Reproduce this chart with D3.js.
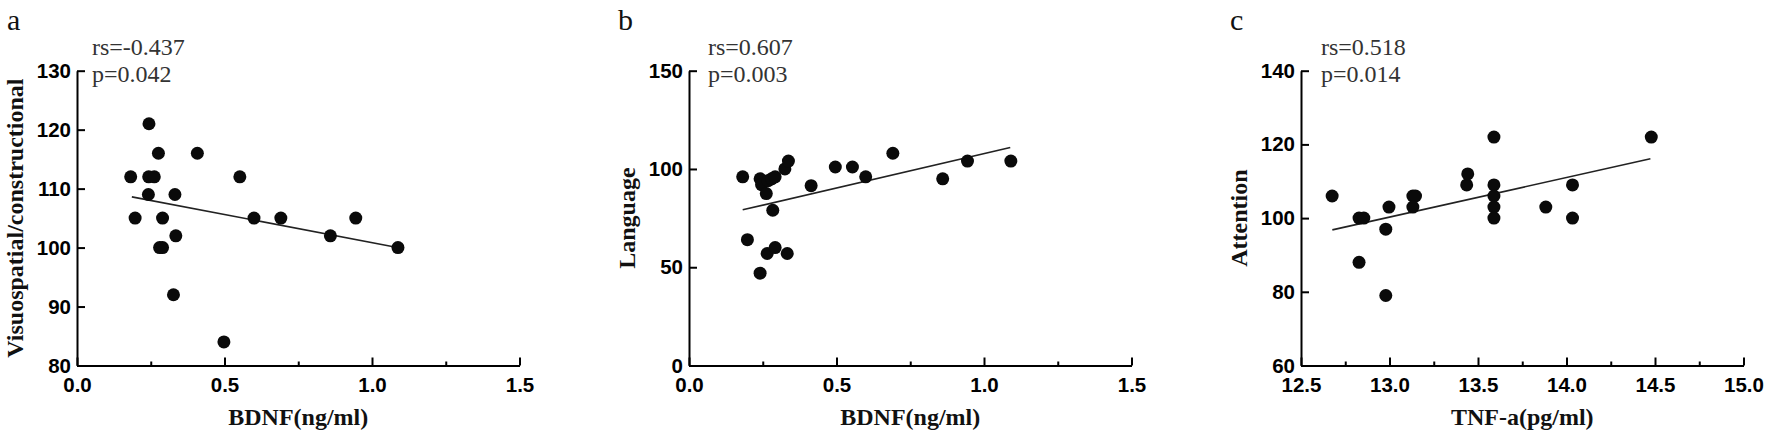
<!DOCTYPE html>
<html>
<head>
<meta charset="utf-8">
<script src="https://cdn.jsdelivr.net/npm/d3@7"></script>
<style>
  body { margin: 0; background: #fff; }
  .axis-title { font-family: "Liberation Serif", "Times New Roman", serif; font-weight: bold; font-size: 24px; fill: #111; }
  .stat { font-family: "Liberation Serif", "Times New Roman", serif; font-size: 24px; fill: #333; }
  .letter { font-family: "Liberation Serif", "Times New Roman", serif; font-size: 30px; fill: #111; }
</style>
</head>
<body>
<div id="chart"></div>
<script>
// values
const bdnfA = [0.182, 0.197, 0.244, 0.243, 0.262, 0.242, 0.276, 0.290, 0.280, 0.290, 0.332,
  0.335, 0.327, 0.408, 0.498, 0.552, 0.600, 0.691, 0.859, 0.945, 1.088];
const visuo = [112, 105, 121, 112, 112, 109, 116, 105, 100, 100, 109,
  102, 92, 116, 84, 112, 105, 105, 102, 105, 100];

const bdnfB = [0.182, 0.198, 0.241, 0.246, 0.241, 0.262, 0.265, 0.268, 0.284, 0.280, 0.292, 0.292,
  0.325, 0.337, 0.333, 0.414, 0.496, 0.554, 0.599, 0.691, 0.860, 0.944, 1.091];
const language = [96, 64, 95, 92, 47, 87.5, 57, 94, 79, 95, 96, 60,
  100, 104, 57, 91.5, 101, 101, 96, 108, 95, 104, 104];

const tnf = [12.676, 12.828, 12.855, 12.828, 12.979, 12.979, 12.997, 13.132, 13.147, 13.132, 13.436,
  13.442, 13.59, 13.59, 13.59, 13.59, 13.59, 13.883, 14.034, 14.034, 14.479];
const attention = [106, 100, 100, 88, 97, 79, 103, 106, 106, 103, 109,
  112, 122, 109, 106, 103, 100, 103, 109, 100, 122];

// fitted line ends [x0, y0, x1, y1] in data units
const fitA = [0.186, 108.6, 1.077, 100.1];
const fitB = [0.182, 79.2, 1.089, 110.9];
const fitC = [12.677, 96.8, 14.474, 116.1];

const xTicksBdnf = [0, 0.5, 1.0, 1.5];
const xMinorBdnf = [0.25, 0.75, 1.25];
const xTicksTnf = [12.5, 13.0, 13.5, 14.0, 14.5, 15.0];
const xMinorTnf = [12.75, 13.25, 13.75, 14.25, 14.75];

const panels = [
  { letter: "a", left: 77, xs: bdnfA, ys: visuo, fit: fitA, xDomain: [0, 1.5], yDomain: [80, 130],
    xTicks: xTicksBdnf, xMinor: xMinorBdnf, yTicks: [80, 90, 100, 110, 120, 130],
    xTitle: "BDNF(ng/ml)", yTitle: "Visuospatial/constructional", rs: "rs=-0.437", p: "p=0.042", statDx: 15 },
  { letter: "b", left: 689, xs: bdnfB, ys: language, fit: fitB, xDomain: [0, 1.5], yDomain: [0, 150],
    xTicks: xTicksBdnf, xMinor: xMinorBdnf, yTicks: [0, 50, 100, 150],
    xTitle: "BDNF(ng/ml)", yTitle: "Language", rs: "rs=0.607", p: "p=0.003", statDx: 19 },
  { letter: "c", left: 1301, xs: tnf, ys: attention, fit: fitC, xDomain: [12.5, 15.0], yDomain: [60, 140],
    xTicks: xTicksTnf, xMinor: xMinorTnf, yTicks: [60, 80, 100, 120, 140],
    xTitle: "TNF-a(pg/ml)", yTitle: "Attention", rs: "rs=0.518", p: "p=0.014", statDx: 20 }
];

const width = 1772, height = 442;
const plotW = 442.5, plotTop = 70.7, plotBottom = 365.5;

const svg = d3.select("#chart").append("svg")
  .attr("width", width)
  .attr("height", height);

svg.append("rect").attr("width", width).attr("height", height).attr("fill", "#fff");

panels.forEach(function (p) {
  const x = d3.scaleLinear().domain(p.xDomain).range([p.left, p.left + plotW]);
  const y = d3.scaleLinear().domain(p.yDomain).range([plotBottom, plotTop]);
  const g = svg.append("g");

  // axes, ticks point inward
  const xAxis = g.append("g")
    .attr("transform", "translate(0," + plotBottom + ")")
    .call(d3.axisBottom(x).tickValues(p.xTicks).tickSize(-8).tickSizeOuter(0).tickPadding(12)
      .tickFormat(d3.format(".1f")));
  g.append("g")
    .attr("transform", "translate(0," + plotBottom + ")")
    .call(d3.axisBottom(x).tickValues(p.xMinor).tickSize(-4).tickSizeOuter(0).tickFormat(""))
    .select(".domain").remove();
  g.append("g")
    .attr("transform", "translate(" + p.left + ",0)")
    .call(d3.axisLeft(y).tickValues(p.yTicks).tickSize(-8).tickSizeOuter(0).tickPadding(6));

  g.selectAll(".domain, .tick line").attr("stroke", "#000").attr("stroke-width", 2);
  g.selectAll(".tick text")
    .attr("font-family", "'Liberation Sans', Arial, sans-serif")
    .attr("font-weight", "bold")
    .attr("font-size", 20.5)
    .attr("fill", "#000");
  xAxis.selectAll(".tick text").attr("dy", "0.72em");

  // fit line
  g.append("line")
    .attr("x1", x(p.fit[0])).attr("y1", y(p.fit[1]))
    .attr("x2", x(p.fit[2])).attr("y2", y(p.fit[3]))
    .attr("stroke", "#222").attr("stroke-width", 1.6);

  // points
  g.selectAll(".dot")
    .data(p.xs.map(function (d, i) { return [d, p.ys[i]]; }))
    .enter().append("circle")
    .attr("class", "dot")
    .attr("cx", function (d) { return x(d[0]); })
    .attr("cy", function (d) { return y(d[1]); })
    .attr("r", 6.5)
    .attr("fill", "#0a0a0a");

  // titles
  g.append("text")
    .attr("class", "axis-title")
    .attr("x", p.left + plotW / 2)
    .attr("y", 425)
    .attr("text-anchor", "middle")
    .text(p.xTitle);

  g.append("text")
    .attr("class", "axis-title")
    .attr("transform", "translate(" + (p.left - 54) + "," + (plotTop + plotBottom) / 2 + ") rotate(-90)")
    .attr("text-anchor", "middle")
    .text(p.yTitle);

  g.append("text").attr("class", "stat")
    .attr("x", p.left + p.statDx).attr("y", 55).text(p.rs);
  g.append("text").attr("class", "stat")
    .attr("x", p.left + p.statDx).attr("y", 82).text(p.p);

  g.append("text").attr("class", "letter")
    .attr("x", p.left - 70 + (p.letter === "a" ? 0 : -1))
    .attr("y", 30)
    .text(p.letter);
});
</script>
</body>
</html>
